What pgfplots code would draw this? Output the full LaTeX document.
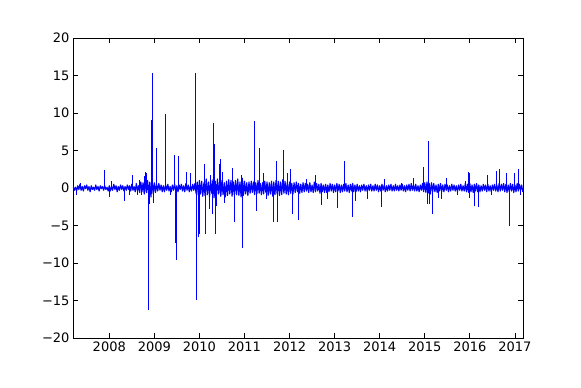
\documentclass[border=0pt]{standalone}
\usepackage{fontspec}
\setmainfont{DejaVu Sans}
\usepackage{pgfplots}
\pgfplotsset{compat=1.18}
\definecolor{mplblue}{RGB}{0,0,255}

\begin{document}
\begin{tikzpicture}
\begin{axis}[
    scale only axis, width=450pt, height=300pt,
    xmin=2007.195, xmax=2017.18, ymin=-20, ymax=20,
    xtick={2008,2009,2010,2011,2012,2013,2014,2015,2016,2017},
    xticklabels={2008,2009,2010,2011,2012,2013,2014,2015,2016,2017},
    ytick={-20,-15,-10,-5,0,5,10,15,20},
    yticklabels={−20,−15,−10,−5,0,5,10,15,20},
    tick align=inside, tick pos=both,
    major tick length=5pt,
    major tick style={black, line width=0.7pt},
    axis line style={black, line width=0.9pt},
    tick label style={font=\fontsize{13}{15}\selectfont},
    clip=true,
  ]
  % daily noise band
  \addplot[mplblue, line width=1.15pt, no marks, line join=round] coordinates {
(2007.200,0.2) (2007.225,-0.3) (2007.250,0.1) (2007.275,-0.4) (2007.300,0.3) (2007.325,-0.2) (2007.350,0.5) (2007.375,-0.3)
(2007.400,0.2) (2007.425,-0.4) (2007.450,0.3) (2007.475,-0.1) (2007.500,0.4) (2007.525,-0.3) (2007.550,0.2) (2007.575,-0.5)
(2007.600,0.3) (2007.625,-0.2) (2007.650,0.1) (2007.675,-0.3) (2007.700,0.4) (2007.725,-0.2) (2007.750,0.2) (2007.775,-0.4)
(2007.800,0.3) (2007.825,-0.1) (2007.850,0.2) (2007.875,-0.3) (2007.900,0.3) (2007.925,-0.2) (2007.950,0.1) (2007.975,-0.4)
(2008.000,0.3) (2008.025,-0.4) (2008.050,0.2) (2008.075,-0.3) (2008.100,0.5) (2008.125,-0.2) (2008.150,0.3) (2008.175,-0.5)
(2008.200,0.2) (2008.225,-0.3) (2008.250,0.4) (2008.275,-0.2) (2008.300,0.3) (2008.325,-0.4) (2008.350,0.2) (2008.375,-0.3)
(2008.400,0.4) (2008.425,-0.2) (2008.450,0.3) (2008.475,-0.4) (2008.500,0.5) (2008.525,-0.3) (2008.550,0.2) (2008.575,-0.5)
(2008.600,0.6) (2008.625,-0.4) (2008.650,0.3) (2008.675,-0.6) (2008.700,0.8) (2008.725,-0.5) (2008.750,0.7) (2008.775,-0.8)
(2008.800,0.9) (2008.825,-0.6) (2008.850,1.0) (2008.875,-0.9) (2008.900,0.8) (2008.925,-1.2) (2008.950,1.0) (2008.975,-0.8)
(2009.000,0.7) (2009.025,-0.6) (2009.050,0.5) (2009.075,-0.4) (2009.100,0.6) (2009.125,-0.3) (2009.150,0.4) (2009.175,-0.5)
(2009.200,0.3) (2009.225,-0.5) (2009.250,0.4) (2009.275,-0.3) (2009.300,0.5) (2009.325,-0.4) (2009.350,0.2) (2009.375,-0.5)
(2009.400,0.4) (2009.425,-0.3) (2009.450,0.5) (2009.475,-0.4) (2009.500,0.3) (2009.525,-0.5) (2009.550,0.4) (2009.575,-0.2)
(2009.600,0.5) (2009.625,-0.4) (2009.650,0.3) (2009.675,-0.5) (2009.700,0.6) (2009.725,-0.3) (2009.750,0.4) (2009.775,-0.5)
(2009.800,0.3) (2009.825,-0.4) (2009.850,0.5) (2009.875,-0.3) (2009.900,0.6) (2009.925,-0.7) (2009.950,0.8) (2009.975,-0.9)
(2010.000,1.0) (2010.025,-0.8) (2010.050,0.9) (2010.075,-1.1) (2010.100,0.7) (2010.125,-1.0) (2010.150,1.2) (2010.175,-0.9)
(2010.200,0.8) (2010.225,-1.2) (2010.250,1.0) (2010.275,-0.7) (2010.300,1.1) (2010.325,-1.3) (2010.350,0.9) (2010.375,-1.0)
(2010.400,1.2) (2010.425,-0.8) (2010.450,0.9) (2010.475,-1.1) (2010.500,1.0) (2010.525,-0.9) (2010.550,0.7) (2010.575,-1.2)
(2010.600,0.9) (2010.625,-1.0) (2010.650,1.1) (2010.675,-0.8) (2010.700,1.0) (2010.725,-1.1) (2010.750,0.8) (2010.775,-0.9)
(2010.800,1.0) (2010.825,-0.9) (2010.850,1.2) (2010.875,-1.0) (2010.900,0.8) (2010.925,-1.2) (2010.950,1.3) (2010.975,-1.0)
(2011.000,0.9) (2011.025,-0.8) (2011.050,0.7) (2011.075,-1.0) (2011.100,0.8) (2011.125,-0.7) (2011.150,0.9) (2011.175,-0.6)
(2011.200,0.8) (2011.225,-0.9) (2011.250,0.7) (2011.275,-0.8) (2011.300,1.0) (2011.325,-0.7) (2011.350,0.6) (2011.375,-0.9)
(2011.400,0.7) (2011.425,-0.8) (2011.450,0.9) (2011.475,-0.6) (2011.500,0.8) (2011.525,-1.0) (2011.550,0.7) (2011.575,-0.8)
(2011.600,0.9) (2011.625,-1.1) (2011.650,0.8) (2011.675,-0.9) (2011.700,1.0) (2011.725,-0.8) (2011.750,0.9) (2011.775,-1.0)
(2011.800,0.8) (2011.825,-0.9) (2011.850,1.1) (2011.875,-0.7) (2011.900,0.9) (2011.925,-0.8) (2011.950,0.7) (2011.975,-0.9)
(2012.000,0.8) (2012.025,-0.7) (2012.050,0.6) (2012.075,-0.8) (2012.100,0.7) (2012.125,-0.6) (2012.150,0.8) (2012.175,-0.5)
(2012.200,0.6) (2012.225,-0.7) (2012.250,0.5) (2012.275,-0.6) (2012.300,0.7) (2012.325,-0.5) (2012.350,0.6) (2012.375,-0.4)
(2012.400,0.5) (2012.425,-0.6) (2012.450,0.7) (2012.475,-0.5) (2012.500,0.4) (2012.525,-0.6) (2012.550,0.8) (2012.575,-0.5)
(2012.600,0.6) (2012.625,-0.4) (2012.650,0.5) (2012.675,-0.7) (2012.700,0.6) (2012.725,-0.5) (2012.750,0.4) (2012.775,-0.6)
(2012.800,0.5) (2012.825,-0.6) (2012.850,0.4) (2012.875,-0.5) (2012.900,0.6) (2012.925,-0.4) (2012.950,0.5) (2012.975,-0.6)
(2013.000,0.4) (2013.025,-0.5) (2013.050,0.6) (2013.075,-0.4) (2013.100,0.5) (2013.125,-0.6) (2013.150,0.4) (2013.175,-0.5)
(2013.200,0.5) (2013.225,-0.4) (2013.250,0.6) (2013.275,-0.5) (2013.300,0.4) (2013.325,-0.6) (2013.350,0.5) (2013.375,-0.4)
(2013.400,0.6) (2013.425,-0.5) (2013.450,0.4) (2013.475,-0.5) (2013.500,0.5) (2013.525,-0.4) (2013.550,0.3) (2013.575,-0.5)
(2013.600,0.4) (2013.625,-0.3) (2013.650,0.5) (2013.675,-0.4) (2013.700,0.3) (2013.725,-0.5) (2013.750,0.4) (2013.775,-0.3)
(2013.800,0.5) (2013.825,-0.4) (2013.850,0.3) (2013.875,-0.4) (2013.900,0.5) (2013.925,-0.3) (2013.950,0.4) (2013.975,-0.5)
(2014.000,0.3) (2014.025,-0.4) (2014.050,0.5) (2014.075,-0.3) (2014.100,0.4) (2014.125,-0.5) (2014.150,0.3) (2014.175,-0.4)
(2014.200,0.4) (2014.225,-0.3) (2014.250,0.5) (2014.275,-0.4) (2014.300,0.3) (2014.325,-0.4) (2014.350,0.5) (2014.375,-0.3)
(2014.400,0.3) (2014.425,-0.4) (2014.450,0.4) (2014.475,-0.3) (2014.500,0.5) (2014.525,-0.4) (2014.550,0.3) (2014.575,-0.5)
(2014.600,0.4) (2014.625,-0.3) (2014.650,0.5) (2014.675,-0.4) (2014.700,0.6) (2014.725,-0.3) (2014.750,0.4) (2014.775,-0.4)
(2014.800,0.5) (2014.825,-0.4) (2014.850,0.3) (2014.875,-0.5) (2014.900,0.4) (2014.925,-0.3) (2014.950,0.6) (2014.975,-0.5)
(2015.000,0.7) (2015.025,-0.6) (2015.050,0.8) (2015.075,-0.7) (2015.100,0.6) (2015.125,-0.8) (2015.150,0.7) (2015.175,-0.5)
(2015.200,0.6) (2015.225,-0.5) (2015.250,0.4) (2015.275,-0.6) (2015.300,0.5) (2015.325,-0.4) (2015.350,0.6) (2015.375,-0.5)
(2015.400,0.4) (2015.425,-0.5) (2015.450,0.5) (2015.475,-0.3) (2015.500,0.4) (2015.525,-0.5) (2015.550,0.3) (2015.575,-0.4)
(2015.600,0.5) (2015.625,-0.3) (2015.650,0.4) (2015.675,-0.4) (2015.700,0.3) (2015.725,-0.5) (2015.750,0.4) (2015.775,-0.3)
(2015.800,0.5) (2015.825,-0.4) (2015.850,0.3) (2015.875,-0.4) (2015.900,0.6) (2015.925,-0.5) (2015.950,0.5) (2015.975,-0.6)
(2016.000,0.6) (2016.025,-0.5) (2016.050,0.4) (2016.075,-0.6) (2016.100,0.5) (2016.125,-0.4) (2016.150,0.6) (2016.175,-0.5)
(2016.200,0.4) (2016.225,-0.5) (2016.250,0.3) (2016.275,-0.4) (2016.300,0.5) (2016.325,-0.3) (2016.350,0.4) (2016.375,-0.5)
(2016.400,0.5) (2016.425,-0.4) (2016.450,0.3) (2016.475,-0.5) (2016.500,0.4) (2016.525,-0.3) (2016.550,0.5) (2016.575,-0.4)
(2016.600,0.4) (2016.625,-0.5) (2016.650,0.6) (2016.675,-0.4) (2016.700,0.5) (2016.725,-0.3) (2016.750,0.6) (2016.775,-0.5)
(2016.800,0.5) (2016.825,-0.6) (2016.850,0.4) (2016.875,-0.5) (2016.900,0.6) (2016.925,-0.4) (2016.950,0.5) (2016.975,-0.6)
(2017.000,0.4) (2017.025,-0.5) (2017.050,0.6) (2017.075,-0.4) (2017.100,0.5) (2017.125,-0.3) (2017.150,0.4) (2017.175,-0.5)
  };
  % single-day spikes
  \addplot[mplblue, line width=0.9pt, ycomb, no marks] coordinates {
(2007.28,-1.0) (2007.36,0.6) (2007.89,2.4) (2008.00,-1.2) (2008.05,0.9) (2008.33,-1.7)
(2008.45,-1.0) (2008.52,1.7) (2008.62,-1.0) (2008.67,1.1) (2008.72,-0.9) (2008.77,1.6)
(2008.795,2.1) (2008.83,2.0) (2008.88,-16.3) (2008.89,-2.2) (2008.93,9.1) (2008.965,15.3)
(2008.98,-2.0) (2009.055,5.3) (2009.24,9.8) (2009.35,-1.0) (2009.44,4.4) (2009.46,-7.3)
(2009.50,-9.6) (2009.535,4.3) (2009.72,2.1) (2009.79,2.0) (2009.92,15.3) (2009.945,-14.9)
(2009.98,-6.5) (2010.00,-6.1) (2010.105,3.2) (2010.135,-6.1) (2010.22,-2.8) (2010.25,1.7)
(2010.28,-3.5) (2010.32,8.7) (2010.33,5.8) (2010.35,-6.1) (2010.38,-2.4) (2010.44,3.2)
(2010.47,3.9) (2010.52,2.1) (2010.55,-2.0) (2010.73,2.7) (2010.78,-4.6) (2010.93,1.7)
(2010.945,-8.0) (2011.225,8.9) (2011.275,-3.1) (2011.33,5.3) (2011.42,2.0) (2011.48,-1.5)
(2011.645,-4.5) (2011.72,3.6) (2011.73,-4.5) (2011.87,5.0) (2011.95,2.0) (2012.03,2.5)
(2012.07,-3.5) (2012.195,-4.3) (2012.38,1.2) (2012.57,1.7) (2012.70,-2.3) (2012.83,-1.5)
(2013.06,-2.7) (2013.225,3.6) (2013.39,-3.9) (2013.46,-1.7) (2013.72,-1.5) (2014.04,-2.6)
(2014.10,1.2) (2014.48,0.7) (2014.745,1.3) (2014.98,2.8) (2015.05,-2.1) (2015.075,6.3)
(2015.10,-2.1) (2015.165,-3.5) (2015.31,-1.3) (2015.38,-1.5) (2015.48,1.3) (2015.73,-1.0)
(2015.90,0.9) (2015.96,2.1) (2015.99,2.0) (2016.00,-1.3) (2016.11,-2.4) (2016.19,-2.6)
(2016.39,1.7) (2016.48,-1.0) (2016.595,2.3) (2016.66,2.5) (2016.82,2.0) (2016.89,-5.1)
(2016.98,2.0) (2017.07,2.5) (2017.12,-0.9)
  };
  \coordinate (sw) at (rel axis cs:0,0);
  \coordinate (ne) at (rel axis cs:1,1);
\end{axis}
\path ([shift={(-73pt,-50pt)}]sw) rectangle ([shift={(58pt,38pt)}]ne);
\end{tikzpicture}
\end{document}
